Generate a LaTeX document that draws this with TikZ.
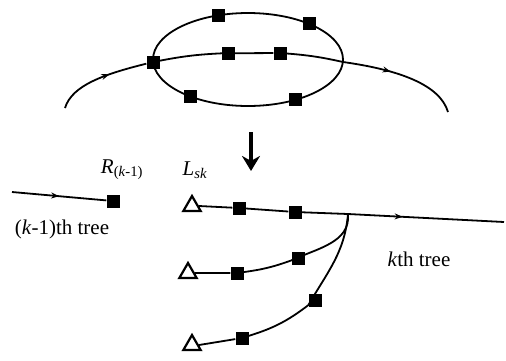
\documentclass[tikz,border=0pt]{standalone}
\usepackage{fontspec}
\setmainfont{Liberation Serif}
\usetikzlibrary{shapes.geometric, decorations.markings, arrows.meta, calc}

\begin{document}
\begin{tikzpicture}[
    x=1pt, y=-1pt,
    site/.style={rectangle, fill=black, minimum size=13pt, inner sep=0pt},
    leaf/.style={regular polygon, regular polygon sides=3, draw=black, line width=2.2pt, fill=white, minimum size=20pt, inner sep=0pt},
    tree edge/.style={draw=black, line width=1.8pt},
    mid arrow/.style={postaction={decorate}, decoration={markings, mark=at position #1 with {\arrow{Stealth[length=8pt,width=6pt]}}}},
    mid arrow/.default=0.5,
    tag/.style={font=\fontsize{21}{23}\selectfont, inner sep=0pt}
]
\useasboundingbox (0,0) rectangle (506,360);

% --- Upper part: the loop joined to the tree ---
\coordinate (hub) at (248,59.5);
\draw[tree edge] (hub) ellipse [x radius=95pt, y radius=46.5pt];
\foreach \a/\n in {108/u1, 50/u2, 233/d1, 300/d2}
    \node[site] (\n) at ($(hub)+(\a:95pt and 46.5pt)$) {};

\node[site] (m0) at (153,62) {};
\node[site] (m1) at (228,53) {};
\node[site] (m2) at (280,53) {};
\coordinate (m3) at (343,62);
\draw[tree edge] (m0) to[bend left=4] (m1) -- (m2) to[bend left=4] (m3);

\coordinate (in0) at (65,108);
\coordinate (out0) at (448,112);
\draw[tree edge, mid arrow=0.6] (in0) .. controls (72,85) and (105,74) .. (m0);
\draw[tree edge, mid arrow=0.4] (m3) .. controls (400,70) and (440,85) .. (out0);

% --- Arrow down ---
\coordinate (s0) at (251,132);
\coordinate (s1) at (251,171);
\draw[line width=3.5pt, -{Stealth[length=15pt,width=18pt]}] (s0) -- (s1);

% --- Lower part: (k-1)th tree and kth tree ---
\coordinate (prev) at (12,192);
\node[site] (r) at (113,201) {};
\draw[tree edge, mid arrow=0.5] (prev) -- (r);
\node[tag] (rlab) at (122,170) {\textit{R}\textsubscript{(\textit{k}-1)}};
\node[tag] (llab) at (195,170) {\textit{L}\textsubscript{\textit{sk}}};
\node[tag] (prevlab) at (62,229) {(\textit{k}-1)th tree};
\node[tag] (nextlab) at (419,259) {\textit{k}th tree};

\node[leaf] (t1) at (192,206) {};
\node[leaf] (t2) at (188,273) {};
\node[leaf] (t3) at (192,345) {};

\node[site] (a1) at (239,208) {};
\node[site] (a2) at (295,212) {};
\node[site] (b1) at (237,273) {};
\node[site] (b2) at (298,258) {};
\node[site] (c1) at (242,338) {};
\node[site] (c2) at (315,300) {};

\coordinate (join) at (348,214);
\coordinate (root) at (504,222);

\draw[tree edge] (t1.east) -- (a1) -- (a2) -- (join);
\draw[tree edge, mid arrow=0.35] (join) -- (root);
\draw[tree edge] (t2.east) -- (b1) to[bend right=6] (b2) to[out=25, in=-85] (join);
\draw[tree edge] (t3.east) -- (c1) to[bend right=10] (c2) to[out=60, in=-95] (join);

\end{tikzpicture}
\end{document}
